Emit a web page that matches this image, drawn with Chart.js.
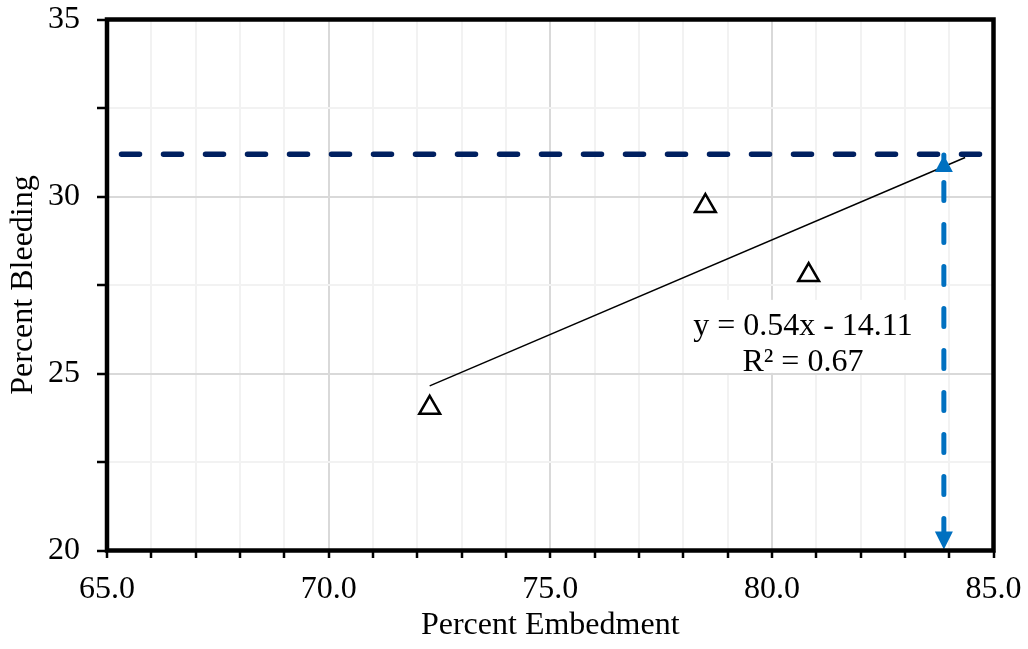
<!DOCTYPE html>
<html>
<head>
<meta charset="utf-8">
<script src="https://cdn.jsdelivr.net/npm/chart.js@4/dist/chart.umd.min.js"></script>
<style>
  html, body { margin: 0; padding: 0; background: #fff; }
  #wrap { width: 1028px; height: 649px; }
</style>
</head>
<body>
<div id="wrap"><canvas id="chart"></canvas></div>
<script>
// measured points (Percent Embedment, Percent Bleeding)
const embedment = [72.28, 78.5, 80.83]
const bleeding = [24.03, 29.73, 27.78]

// linear trendline as drawn (start / end)
const trendX = [72.28, 84.36]
const trendY = [24.65, 31.1]

// target bleeding level and the matching embedment
const targetBleeding = 31.19
const targetEmbedment = 83.88
const arrowTopY = 31.17

const xTicks = [65, 70, 75, 80, 85]
const yTicks = [20, 25, 30, 35]
const equationLines = ["y = 0.54x - 14.11", "R² = 0.67"]

const FONT = "'Liberation Serif', 'Times New Roman', serif"

// white box with the trendline equation, plus frame and arrowheads
const extrasPlugin = {
  id: "extras",
  beforeDatasetsDraw(chart) {
    const { ctx, scales: { x, y } } = chart
    const cx = x.getPixelForValue(80.7)
    const top = y.getPixelForValue(27.08)
    ctx.save()
    ctx.fillStyle = "#fff"
    ctx.fillRect(cx - 116, top, 238, 73)
    ctx.fillStyle = "#000"
    ctx.font = `32px ${FONT}`
    ctx.textAlign = "center"
    ctx.textBaseline = "alphabetic"
    ctx.fillText(equationLines[0], cx, top + 35)
    ctx.fillText(equationLines[1], cx, top + 71)
    ctx.restore()
  },
  afterDatasetsDraw(chart) {
    const { ctx, chartArea: a } = chart
    const pts = chart.getDatasetMeta(0).data
    ctx.save()
    ctx.fillStyle = "#0070c0"
    if (pts.length === 2) {
      const t = pts[0], b = pts[1]
      ctx.beginPath()
      ctx.moveTo(t.x, t.y)
      ctx.lineTo(t.x - 9, t.y + 17)
      ctx.lineTo(t.x + 9, t.y + 17)
      ctx.closePath()
      ctx.fill()
      ctx.beginPath()
      ctx.moveTo(b.x, b.y - 1)
      ctx.lineTo(b.x - 9, b.y - 19)
      ctx.lineTo(b.x + 9, b.y - 19)
      ctx.closePath()
      ctx.fill()
    }
    ctx.strokeStyle = "#000"
    ctx.lineWidth = 4.5
    ctx.lineJoin = "miter"
    ctx.strokeRect(a.left, a.top, a.right - a.left, a.bottom - a.top)
    ctx.restore()
  },
}

new Chart(document.getElementById("chart"), {
  type: "scatter",
  data: {
    datasets: [
      {
        label: "arrow",
        type: "line",
        data: [
          { x: targetEmbedment, y: arrowTopY },
          { x: targetEmbedment, y: 20 },
        ],
        borderColor: "#0070c0",
        borderWidth: 5,
        borderDash: [18, 24],
        borderDashOffset: 14.5,
        borderCapStyle: "round",
        pointRadius: 0,
        fill: false,
      },
      {
        label: "target",
        type: "line",
        data: [
          { x: 65, y: targetBleeding },
          { x: 85, y: targetBleeding },
        ],
        borderColor: "#002060",
        borderWidth: 5.5,
        borderDash: [18, 24],
        borderDashOffset: 27.5,
        borderCapStyle: "round",
        pointRadius: 0,
        fill: false,
      },
      {
        label: "trend",
        type: "line",
        data: trendX.map((v, i) => ({ x: v, y: trendY[i] })),
        borderColor: "#000",
        borderWidth: 1.5,
        pointRadius: 0,
        fill: false,
      },
      {
        label: "bleeding",
        data: embedment.map((v, i) => ({ x: v, y: bleeding[i] })),
        pointStyle: "triangle",
        pointRadius: 12,
        pointBackgroundColor: "#fff",
        pointBorderColor: "#000",
        pointBorderWidth: 2.5,
      },
    ],
  },
  options: {
    responsive: true,
    maintainAspectRatio: false,
    animation: false,
    layout: { padding: { top: 19.5, right: 34.5, left: 0, bottom: 0 } },
    plugins: {
      legend: { display: false },
      tooltip: { enabled: false },
    },
    scales: {
      x: {
        type: "linear",
        min: 65,
        max: 85,
        border: { display: false },
        afterFit: (scale) => {
          scale.height = 98.5
          scale.paddingLeft = 0
          scale.paddingRight = 0
        },
        grid: {
          color: (c) => (xTicks.includes(c.tick.value) ? "#d9d9d9" : "#f2f2f2"),
          lineWidth: 2,
          tickColor: "#000",
          tickWidth: 2.5,
          tickLength: 7.5,
        },
        ticks: {
          stepSize: 1,
          autoSkip: false,
          maxRotation: 0,
          padding: 12,
          color: "#000",
          font: { family: FONT, size: 32 },
          callback: (v) => (xTicks.includes(v) ? v.toFixed(1) : ""),
        },
        title: {
          display: true,
          text: "Percent Embedment",
          color: "#000",
          font: { family: FONT, size: 32 },
        },
      },
      y: {
        type: "linear",
        min: 20,
        max: 35,
        border: { display: false },
        afterFit: (scale) => {
          scale.width = 107
          scale.paddingTop = 0
          scale.paddingBottom = 0
        },
        grid: {
          color: (c) => (yTicks.includes(c.tick.value) ? "#d9d9d9" : "#f2f2f2"),
          lineWidth: 2,
          tickColor: "#000",
          tickWidth: 2.5,
          tickLength: 10,
        },
        ticks: {
          stepSize: 2.5,
          autoSkip: false,
          padding: 17,
          color: "#000",
          font: { family: FONT, size: 32 },
          callback: (v) => (yTicks.includes(v) ? String(v) : ""),
        },
        title: {
          display: true,
          text: "Percent Bleeding",
          color: "#000",
          font: { family: FONT, size: 32 },
        },
      },
    },
  },
  plugins: [extrasPlugin],
})
</script>
</body>
</html>
